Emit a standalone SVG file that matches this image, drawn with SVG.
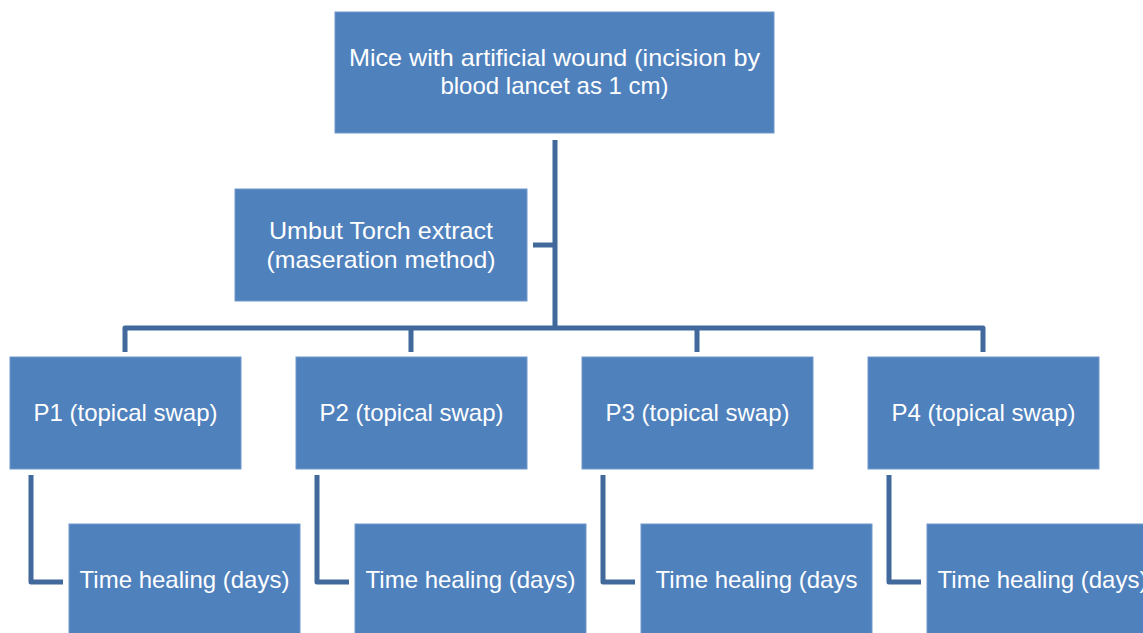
<svg xmlns="http://www.w3.org/2000/svg" width="1143" height="633" viewBox="0 0 1143 633">
<style>
.box{fill:#4F81BD;stroke:#7398C9;stroke-width:1}
.t{fill:#FFFFFF;font-family:"Liberation Sans",Arial,sans-serif;font-size:24px;text-anchor:middle}
.c{fill:none;stroke:#41699B;stroke-width:5;stroke-linejoin:round}
</style>
<rect width="1143" height="633" fill="#FFFFFF"/>
<g id="connectors">
<path class="c" d="M555 140 V328"/>
<path class="c" d="M533 245 H555"/>
<path class="c" d="M125 352 V328 H983 V352"/>
<path class="c" d="M411 328 V352 M697 328 V352"/>
<path class="c" d="M31 475 V582 H63"/>
<path class="c" d="M317 475 V582 H349"/>
<path class="c" d="M603 475 V582 H635"/>
<path class="c" d="M889 475 V582 H921"/>
</g>
<g id="mice">
<rect class="box" x="335" y="12" width="439" height="121"/>
<text class="t" x="554.5" y="66" textLength="411" lengthAdjust="spacingAndGlyphs">Mice with artificial wound (incision by</text>
<text class="t" x="554.5" y="94">blood lancet as 1 cm)</text>
</g>
<g id="extract">
<rect class="box" x="235" y="189" width="292" height="112"/>
<text class="t" x="381" y="239" textLength="224" lengthAdjust="spacingAndGlyphs">Umbut Torch extract</text>
<text class="t" x="381" y="268" textLength="229" lengthAdjust="spacingAndGlyphs">(maseration method)</text>
</g>
<g id="p1">
<rect class="box" x="10" y="357" width="231" height="112"/>
<text class="t" x="125.5" y="421">P1 (topical swap)</text>
</g>
<g id="p2">
<rect class="box" x="296" y="357" width="231" height="112"/>
<text class="t" x="411.5" y="421">P2 (topical swap)</text>
</g>
<g id="p3">
<rect class="box" x="582" y="357" width="231" height="112"/>
<text class="t" x="697.5" y="421">P3 (topical swap)</text>
</g>
<g id="p4">
<rect class="box" x="868" y="357" width="231" height="112"/>
<text class="t" x="983.5" y="421">P4 (topical swap)</text>
</g>
<g id="time1">
<rect class="box" x="69" y="524" width="231" height="120"/>
<text class="t" x="184.5" y="588">Time healing (days)</text>
</g>
<g id="time2">
<rect class="box" x="355" y="524" width="231" height="120"/>
<text class="t" x="470.5" y="588">Time healing (days)</text>
</g>
<g id="time3">
<rect class="box" x="641" y="524" width="231" height="120"/>
<text class="t" x="756.5" y="588">Time healing (days</text>
</g>
<g id="time4">
<rect class="box" x="927" y="524" width="231" height="120"/>
<text class="t" x="1042.5" y="588">Time healing (days)</text>
</g>
</svg>
